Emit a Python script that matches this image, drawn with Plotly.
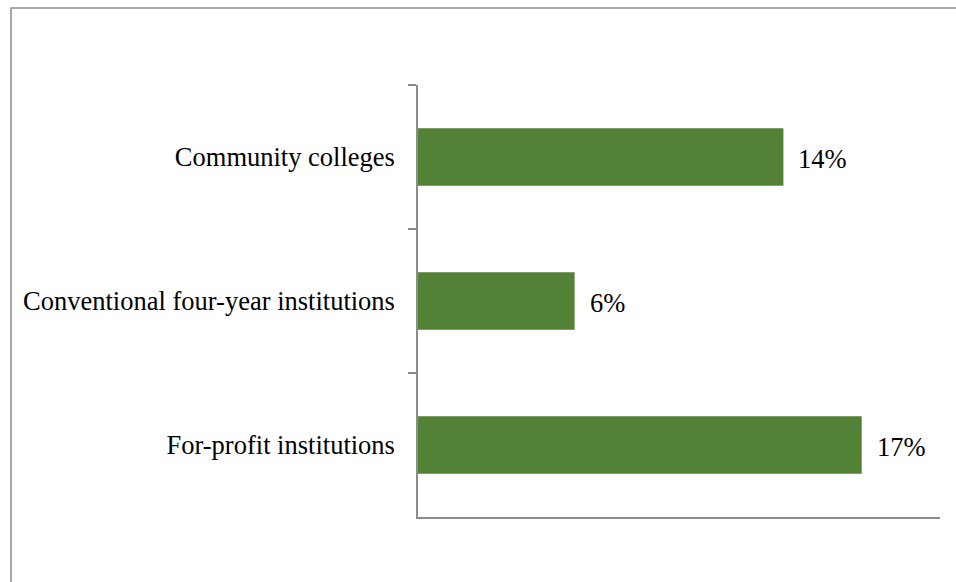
import plotly.graph_objects as go

categories = ["Community colleges", "Conventional four-year institutions", "For-profit institutions"]
values = [14, 6, 17]
value_labels = [f"{v}%" for v in values]

BAR_COLOR = "#538135"
AXIS_COLOR = "#8c8c8c"
FONT = dict(family="Liberation Serif, Times New Roman, serif", size=26.5, color="#000000")

W, H = 956, 582
L, R, T, B = 418, 16, 85, 65
plot_w = W - L - R
plot_h = H - T - B

fig = go.Figure(
    go.Bar(
        x=values,
        y=categories,
        orientation="h",
        marker=dict(color=BAR_COLOR, line=dict(width=0)),
        width=0.4,
        hoverinfo="skip",
    )
)

# value labels just past the end of each bar
for cat, v, lab in zip(categories, values, value_labels):
    fig.add_annotation(
        x=v, y=cat, text=lab, showarrow=False,
        xanchor="left", yanchor="middle", xshift=13, yshift=-2,
        font=FONT,
    )

# outer chart frame
def px_x(p):
    return (p - L) / plot_w

def px_y(p):
    return (H - B - p) / plot_h

fig.add_shape(
    type="rect", xref="paper", yref="paper",
    x0=px_x(11), x1=px_x(W + 20), y0=px_y(8), y1=px_y(H + 20),
    line=dict(color=AXIS_COLOR, width=1.5), fillcolor="rgba(0,0,0,0)",
    layer="below",
)

fig.update_layout(
    width=W, height=H,
    margin=dict(l=L, r=R, t=T, b=B, pad=0),
    paper_bgcolor="white", plot_bgcolor="white",
    font=FONT,
    showlegend=False,
    xaxis=dict(
        range=[0, 20], showgrid=False, zeroline=False,
        showticklabels=False, ticks="",
        showline=True, linecolor=AXIS_COLOR, linewidth=1.5,
        fixedrange=True,
    ),
    yaxis=dict(
        categoryorder="array", categoryarray=categories,
        autorange="reversed",
        showgrid=False, zeroline=False,
        showline=True, linecolor=AXIS_COLOR, linewidth=1.5,
        ticks="outside", tickson="boundaries", ticklen=8,
        tickcolor=AXIS_COLOR, tickwidth=1.5,
        ticklabelstandoff=16,
        tickfont=FONT,
        fixedrange=True,
    ),
)

fig.write_html("out.html")
